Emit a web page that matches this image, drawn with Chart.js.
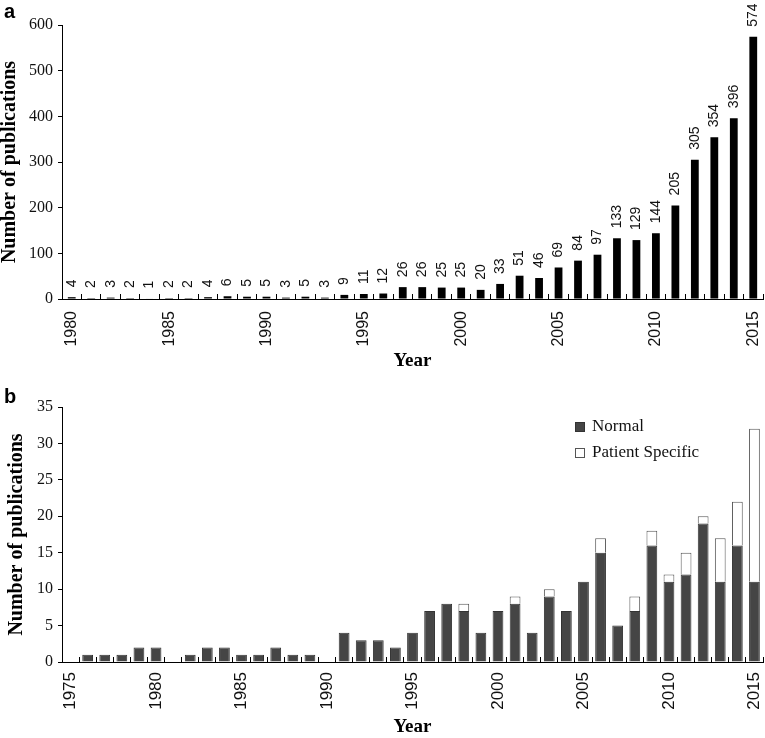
<!DOCTYPE html>
<html>
<head>
<meta charset="utf-8">
<script src="https://cdn.jsdelivr.net/npm/chart.js@4.4.1/dist/chart.umd.min.js"></script>
<style>
  body { margin: 0; background: #fff; }
  canvas { display: block; }
</style>
</head>
<body>
<canvas id="chartA" width="765" height="372"></canvas>
<canvas id="chartB" width="765" height="366"></canvas>
<script>
// panel a: all publications per year
const yearsA = [1980, 1981, 1982, 1983, 1984, 1985, 1986, 1987, 1988, 1989,
                1990, 1991, 1992, 1993, 1994, 1995, 1996, 1997, 1998, 1999,
                2000, 2001, 2002, 2003, 2004, 2005, 2006, 2007, 2008, 2009,
                2010, 2011, 2012, 2013, 2014, 2015];
const totalA = [4, 2, 3, 2, 1, 2, 2, 4, 6, 5,
                5, 3, 5, 3, 9, 11, 12, 26, 26, 25,
                25, 20, 33, 51, 46, 69, 84, 97, 133, 129,
                144, 205, 305, 354, 396, 574];

// panel b: normal vs patient specific (null = no bar)
const yearsB = [1975, 1976, 1977, 1978, 1979, 1980, 1981, 1982, 1983, 1984,
                1985, 1986, 1987, 1988, 1989, 1990, 1991, 1992, 1993, 1994,
                1995, 1996, 1997, 1998, 1999, 2000, 2001, 2002, 2003, 2004,
                2005, 2006, 2007, 2008, 2009, 2010, 2011, 2012, 2013, 2014, 2015];
const normalB = [null, 1, 1, 1, 2, 2, null, 1, 2, 2,
                 1, 1, 2, 1, 1, null, 4, 3, 3, 2,
                 4, 7, 8, 7, 4, 7, 8, 4, 9, 7,
                 11, 15, 5, 7, 16, 11, 12, 19, 11, 16, 11];
const patientB = [null, null, null, null, null, null, null, null, null, null,
                  null, null, null, null, null, null, null, null, null, null,
                  null, null, null, 1, null, null, 1, null, 1, null,
                  null, 2, null, 2, 2, 1, 3, 1, 6, 6, 21];

const serif = '"Liberation Serif", "Times New Roman", serif';
const sans = '"Liberation Sans", Arial, sans-serif';

const panelLetter = {
  id: 'panelLetter',
  afterDraw(chart, args, opts) {
    const ctx = chart.ctx;
    ctx.save();
    ctx.font = 'bold 20px ' + sans;
    ctx.fillStyle = '#000';
    ctx.textBaseline = 'alphabetic';
    ctx.fillText(opts.text, opts.x, opts.y);
    ctx.restore();
  }
};

const barValues = {
  id: 'barValues',
  afterDatasetsDraw(chart, args, opts) {
    if (!opts.show) return;
    const ctx = chart.ctx;
    const meta = chart.getDatasetMeta(0);
    const vals = chart.data.datasets[0].data;
    ctx.save();
    ctx.font = '14px ' + sans;
    ctx.fillStyle = '#111';
    ctx.textAlign = 'left';
    ctx.textBaseline = 'middle';
    meta.data.forEach((bar, i) => {
      ctx.save();
      ctx.translate(bar.x, bar.y - 10);
      ctx.rotate(-Math.PI / 2);
      ctx.fillText(String(vals[i]), 0, 0);
      ctx.restore();
    });
    ctx.restore();
  }
};

const boxLegend = {
  id: 'boxLegend',
  afterDraw(chart, args, opts) {
    if (!opts.show) return;
    const {ctx, chartArea} = chart;
    ctx.save();
    ctx.font = '17px ' + serif;
    ctx.textBaseline = 'middle';
    chart.data.datasets.forEach((ds, i) => {
      const x = chartArea.left + opts.left;
      const y = chartArea.top + opts.top + i * opts.rowGap;
      ctx.fillStyle = ds.backgroundColor;
      ctx.fillRect(x, y - 5, 10, 10);
      ctx.strokeStyle = ds.borderColor;
      ctx.lineWidth = 1;
      ctx.strokeRect(x + 0.5, y - 4.5, 9, 9);
      ctx.fillStyle = '#111';
      ctx.fillText(ds.label, x + 17, y);
    });
    ctx.restore();
  }
};

function axes(years, yMax, yStep, xHeight, xPad, xFont, yTitlePad) {
  return {
    x: {
      stacked: true,
      grid: { drawOnChartArea: false, offset: true, tickLength: -5, color: '#000' },
      border: { color: '#000', width: 1 },
      ticks: {
        autoSkip: false, maxRotation: 90, minRotation: 90, padding: xPad,
        color: '#111', font: { family: sans, size: xFont },
        callback: (v, i) => (years[i] % 5 === 0 ? String(years[i]) : '')
      },
      title: {
        display: true, text: 'Year', color: '#000', padding: { top: 0, bottom: 1 },
        font: { family: serif, size: 19, weight: 'bold', lineHeight: 1 }
      },
      afterFit(s) {
        s.height = xHeight;
        s.paddingLeft = 0;
        s.paddingRight = 0;
      }
    },
    y: {
      stacked: true, min: 0, max: yMax,
      grid: { drawOnChartArea: false, tickLength: 4, color: '#000' },
      border: { color: '#000', width: 1 },
      ticks: { stepSize: yStep, padding: 5, color: '#111', font: { family: serif, size: 16 } },
      title: {
        display: true, text: 'Number of publications', color: '#000', padding: { top: yTitlePad, bottom: 0 },
        font: { family: serif, size: 20, weight: 'bold', lineHeight: 1 }
      },
      afterFit(s) { s.width = 62; }
    }
  };
}

new Chart(document.getElementById('chartA'), {
  type: 'bar',
  data: {
    labels: yearsA,
    datasets: [{
      label: 'Publications',
      data: totalA,
      backgroundColor: '#000',
      categoryPercentage: 1,
      barPercentage: 0.4
    }]
  },
  options: {
    responsive: false,
    animation: false,
    layout: { padding: { top: 25, right: 2, bottom: 0, left: 0 } },
    plugins: {
      legend: { display: false },
      tooltip: { enabled: false },
      panelLetter: { text: 'a', x: 4, y: 18 },
      barValues: { show: true },
      boxLegend: { show: false }
    },
    scales: axes(yearsA, 600, 100, 73, 17, 16, 0)
  },
  plugins: [panelLetter, barValues, boxLegend]
});

new Chart(document.getElementById('chartB'), {
  type: 'bar',
  data: {
    labels: yearsB,
    datasets: [{
      label: 'Normal',
      data: normalB,
      backgroundColor: '#454545',
      borderColor: '#333',
      borderWidth: 1,
      categoryPercentage: 1,
      barPercentage: 0.63
    }, {
      label: 'Patient Specific',
      data: patientB,
      backgroundColor: '#fff',
      borderColor: '#555',
      borderWidth: 1,
      categoryPercentage: 1,
      barPercentage: 0.63
    }]
  },
  options: {
    responsive: false,
    animation: false,
    layout: { padding: { top: 35, right: 2, bottom: 0, left: 0 } },
    plugins: {
      legend: { display: false },
      tooltip: { enabled: false },
      panelLetter: { text: 'b', x: 4, y: 31 },
      barValues: { show: false },
      boxLegend: { show: true, left: 513, top: 20, rowGap: 26 }
    },
    scales: axes(yearsB, 35, 5, 76, 15, 17, 7)
  },
  plugins: [panelLetter, barValues, boxLegend]
});
</script>
</body>
</html>
